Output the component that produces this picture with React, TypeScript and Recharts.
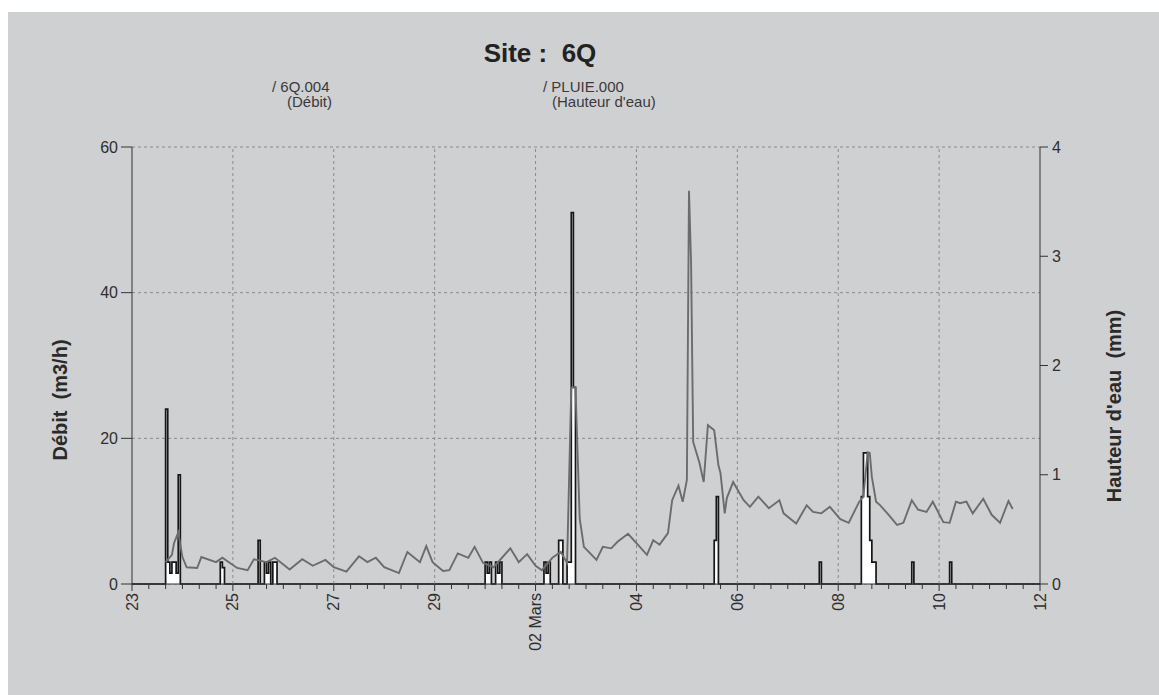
import {
  ComposedChart,
  Line,
  Area,
  XAxis,
  YAxis,
  CartesianGrid,
  ReferenceLine,
} from "recharts";

const FONT = "Arial, 'Liberation Sans', Helvetica, sans-serif";
const PANEL = "#cfd0d2";

// time axis is in hours counted from 23 Feb 00:00
const debitHours = [
  16, 19, 20, 22, 24, 26, 31, 33, 40, 43, 50, 55, 58, 64, 68, 75, 81, 86, 92,
  96, 102, 108, 112, 116, 120, 127, 131, 137, 140, 143, 148, 151, 155, 160,
  163, 167, 172, 180, 184, 188, 192, 195, 200, 204, 207, 209, 211, 213, 215,
  221, 224, 228, 231, 236, 240, 245, 248, 251, 255, 257, 260, 262, 264, 265,
  266, 267, 270, 272, 274, 277, 279, 280, 282, 283, 286, 291, 294, 298, 303,
  308, 310, 316, 321, 324, 328, 332, 337, 341, 346, 348, 350, 351, 352, 354,
  356, 360, 364, 367, 371, 374, 378, 381, 386, 389, 392, 394, 397, 400, 405,
  409, 413, 417, 419,
];
const debitValues = [
  3.0, 4.0, 5.6, 7.1, 3.7, 2.3, 2.2, 3.7, 3.0, 3.6, 2.2, 1.9, 3.4, 3.0, 3.6,
  2.0, 3.4, 2.5, 3.3, 2.3, 1.7, 3.8, 3.0, 3.6, 2.3, 1.5, 4.4, 3.0, 5.2, 3.0,
  1.8, 1.9, 4.2, 3.6, 5.1, 2.9, 2.3, 4.9, 3.0, 4.1, 2.5, 1.9, 3.6, 4.4, 2.9,
  27.0, 27.0, 9.0, 5.1, 3.3, 5.1, 4.9, 5.8, 6.9, 5.6, 4.0, 6.0, 5.4, 7.0, 11.5,
  13.5, 11.3, 14.3, 54.0, 44.0, 19.5, 16.6, 14.0, 21.8, 21.1, 16.3, 15.2, 9.7,
  11.8, 14.0, 11.5, 10.6, 12.0, 10.4, 11.5, 9.7, 8.3, 10.8, 9.9, 9.7, 10.6,
  8.9, 8.4, 11.3, 12.0, 18.1, 18.0, 14.7, 11.3, 10.8, 9.5, 8.1, 8.4, 11.5,
  10.2, 9.9, 11.3, 8.5, 8.4, 11.3, 11.1, 11.3, 9.7, 11.7, 9.5, 8.4, 11.4, 10.3,
];

// hourly rain depth (mm); each entry holds until the next one
const rainHours = [
  0, 16, 17, 18, 19, 20, 21, 22, 23, 42, 43, 44, 60, 61, 63, 64, 65, 66,
  67, 68, 69, 168, 169, 170, 171, 173, 174, 175, 176, 196, 197, 198, 199, 203,
  204, 205, 207, 209, 210, 211, 277, 278, 279, 327, 328, 347, 348, 349,
  350, 351, 352, 353, 354, 371, 372, 389, 390, 432,
];
const rainValues = [
  0, 1.6, 0.2, 0.1, 0.2, 0.2, 0.1, 1.0, 0, 0.2, 0.15, 0, 0.4, 0, 0.2, 0.1,
  0.2, 0, 0.2, 0.2, 0, 0.2, 0.1, 0.2, 0, 0.2, 0.1, 0.2, 0, 0.2, 0.1, 0.2, 0,
  0.4, 0.4, 0, 0.2, 3.4, 1.8, 0, 0.4, 0.8, 0, 0.2, 0, 0.8, 1.2, 1.2, 0.8,
  0.4, 0.2, 0.2, 0, 0.2, 0, 0.2, 0, 0,
];

const dayTicks = [0, 48, 96, 144, 192, 240, 288, 336, 384, 432];
const dayLabels = ["23", "25", "27", "29", "02 Mars", "04", "06", "08", "10", "12"];
const debitTicks = [0, 20, 40, 60];
const rainTicks = [0, 1, 2, 3, 4];

const debitData = debitHours.map((h, i) => ({ h, debit: debitValues[i] }));
const rainData = rainHours.map((h, i) => ({ h, pluie: rainValues[i] }));
// small ticks every 8 hours
const hourTicks = Array.from({ length: 55 }, (_, i) => i * 8);

function DayTick(props: any) {
  const { x, y, payload } = props;
  const idx = dayTicks.indexOf(payload.value);
  if (idx < 0) {
    return <line x1={x} x2={x} y1={y} y2={y + 5} stroke="#333" />;
  }
  const ty = y + 9;
  return (
    <g>
      <line x1={x} x2={x} y1={y} y2={y + 7} stroke="#333" />
      <text
        x={x}
        y={ty}
        transform={`rotate(-90 ${x} ${ty})`}
        textAnchor="end"
        dominantBaseline="central"
        fontSize={16}
        fontFamily={FONT}
        fill="#2f2f2f"
      >
        {dayLabels[idx]}
      </text>
    </g>
  );
}

export default function App() {
  const W = 1151;
  const H = 683;
  return (
    <div
      style={{
        position: "fixed",
        left: 8,
        top: 12,
        right: 0,
        bottom: 0,
        background: PANEL,
        fontFamily: FONT,
      }}
    >
      <ComposedChart
        width={W}
        height={H}
        margin={{ top: 135, right: 59, bottom: 31, left: 64 }}
      >
        <CartesianGrid
          vertical={false}
          yAxisId="debit"
          stroke="#8a8a8a"
          strokeDasharray="3 3"
        />
        {dayTicks.slice(1, -1).map((d) => (
          <ReferenceLine
            key={d}
            x={d}
            yAxisId="debit"
            stroke="#8a8a8a"
            strokeDasharray="3 3"
          />
        ))}
        <XAxis
          dataKey="h"
          type="number"
          domain={[0, 432]}
          ticks={hourTicks}
          interval={0}
          allowDataOverflow
          height={80}
          tickSize={0}
          tickMargin={0}
          tickLine={false}
          tick={<DayTick />}
          stroke="#333"
        />
        <YAxis
          yAxisId="debit"
          orientation="left"
          domain={[0, 60]}
          ticks={debitTicks}
          width={60}
          tickSize={11}
          tickMargin={3}
          stroke="#333"
          tick={{ fontSize: 16, fill: "#2f2f2f", fontFamily: FONT }}
        />
        <YAxis
          yAxisId="pluie"
          orientation="right"
          domain={[0, 4]}
          ticks={rainTicks}
          width={60}
          tickSize={8}
          tickMargin={4}
          stroke="#333"
          tick={{ fontSize: 16, fill: "#2f2f2f", fontFamily: FONT }}
        />
        <Area
          data={rainData}
          yAxisId="pluie"
          dataKey="pluie"
          type="stepAfter"
          stroke="#161616"
          strokeWidth={1.7}
          fill="#ffffff"
          fillOpacity={1}
          isAnimationActive={false}
          dot={false}
          activeDot={false}
        />
        <Line
          data={debitData}
          yAxisId="debit"
          dataKey="debit"
          type="linear"
          stroke="#6c6c6c"
          strokeWidth={1.9}
          dot={false}
          activeDot={false}
          isAnimationActive={false}
        />
      </ComposedChart>
      <svg
        width={W}
        height={H}
        style={{ position: "absolute", left: 0, top: 0, pointerEvents: "none" }}
      >
        <text
          x={532}
          y={50}
          textAnchor="middle"
          fontSize={26}
          fontWeight="bold"
          fill="#222"
          fontFamily={FONT}
          style={{ whiteSpace: "pre" }}
        >
          Site :  6Q
        </text>
        <g fontSize={15} fill="#3a3a3a" fontFamily={FONT}>
          <text x={264} y={80}>/ 6Q.004</text>
          <text x={279} y={95}>(Débit)</text>
          <text x={535} y={80}>/ PLUIE.000</text>
          <text x={544} y={95}>(Hauteur d'eau)</text>
        </g>
        <g fontSize={20} fontWeight="bold" fill="#2a2a2a" fontFamily={FONT}>
          <text
            x={52}
            y={388}
            textAnchor="middle"
            dominantBaseline="central"
            transform="rotate(-90 52 388)"
            style={{ whiteSpace: "pre" }}
          >
            Débit  (m3/h)
          </text>
          <text
            x={1106}
            y={394}
            textAnchor="middle"
            dominantBaseline="central"
            transform="rotate(-90 1106 394)"
            style={{ whiteSpace: "pre" }}
          >
            Hauteur d'eau  (mm)
          </text>
        </g>
      </svg>
    </div>
  );
}
